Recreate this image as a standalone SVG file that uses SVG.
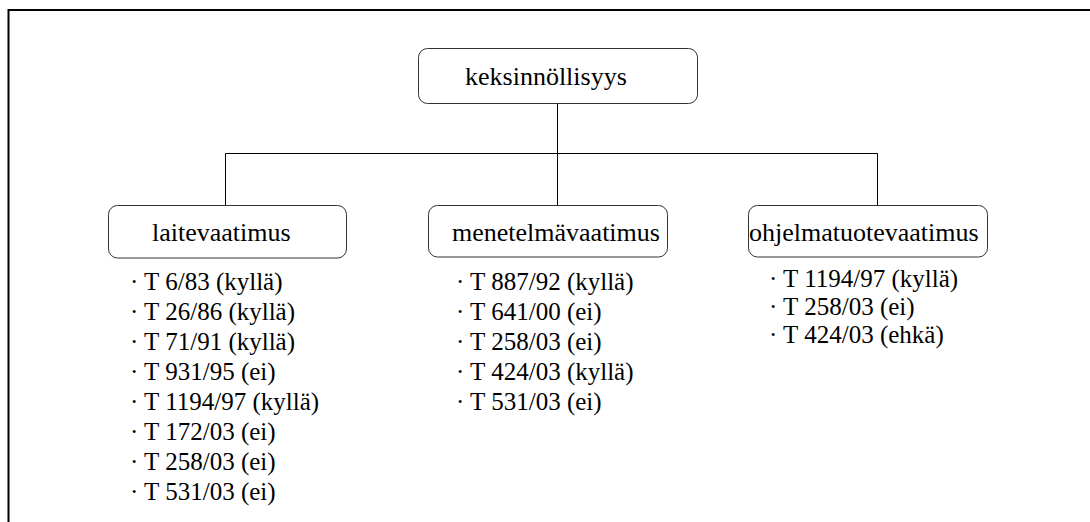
<svg xmlns="http://www.w3.org/2000/svg" width="1090" height="522" viewBox="0 0 1090 522">
<style>
.box{fill:#fff;stroke:#333;stroke-width:1}
.lbl{font-size:26px;fill:#000}
.item{font-size:25px;fill:#000}
.conn{stroke:#000;stroke-width:1;fill:none}
</style>
<rect width="1090" height="522" fill="#fff"/>
<path d="M8.5,522 V10 H1090" fill="none" stroke="#000" stroke-width="2"/>
<g id="connectors">
<path class="conn" d="M557.5,103.5 V153.5"/>
<path class="conn" d="M225.5,205.5 V153.5 H877.5 V205.5"/>
<path class="conn" d="M557.5,153.5 V205.5"/>
</g>
<g font-family="Liberation Serif, Tinos, Times New Roman, serif">
<g id="keksinnollisyys">
<rect class="box" x="418.5" y="48.5" width="279" height="55" rx="9"/>
<text class="lbl" x="465" y="85">keksinnöllisyys</text>
</g>
<g id="laitevaatimus">
<rect class="box" x="108.5" y="205.5" width="238" height="52.5" rx="9"/>
<text class="lbl" x="152" y="241">laitevaatimus</text>
<text class="item" x="130" y="290">· T 6/83 (kyllä)</text>
<text class="item" x="130" y="320">· T 26/86 (kyllä)</text>
<text class="item" x="130" y="350">· T 71/91 (kyllä)</text>
<text class="item" x="130" y="380">· T 931/95 (ei)</text>
<text class="item" x="130" y="410">· T 1194/97 (kyllä)</text>
<text class="item" x="130" y="440">· T 172/03 (ei)</text>
<text class="item" x="130" y="470">· T 258/03 (ei)</text>
<text class="item" x="130" y="500">· T 531/03 (ei)</text>
</g>
<g id="menetelmavaatimus">
<rect class="box" x="428.5" y="205.5" width="239" height="51.5" rx="9"/>
<text class="lbl" x="452" y="241">menetelmävaatimus</text>
<text class="item" x="456" y="290">· T 887/92 (kyllä)</text>
<text class="item" x="456" y="320">· T 641/00 (ei)</text>
<text class="item" x="456" y="350">· T 258/03 (ei)</text>
<text class="item" x="456" y="380">· T 424/03 (kyllä)</text>
<text class="item" x="456" y="410">· T 531/03 (ei)</text>
</g>
<g id="ohjelmatuotevaatimus">
<rect class="box" x="748.5" y="205.5" width="239" height="51.5" rx="9"/>
<text class="lbl" x="749" y="241">ohjelmatuotevaatimus</text>
<text class="item" x="769" y="287">· T 1194/97 (kyllä)</text>
<text class="item" x="769" y="315">· T 258/03 (ei)</text>
<text class="item" x="769" y="343">· T 424/03 (ehkä)</text>
</g>
</g>
</svg>
